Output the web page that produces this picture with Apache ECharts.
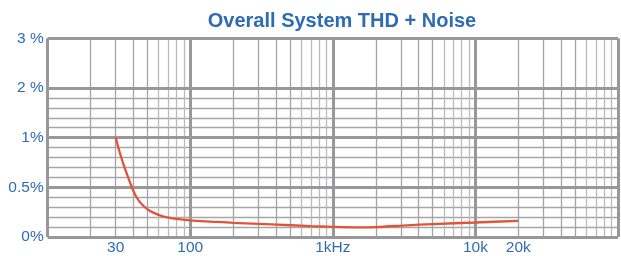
<!DOCTYPE html>
<html>
<head>
<meta charset="utf-8">
<script src="https://cdn.jsdelivr.net/npm/echarts@6/dist/echarts.min.js"></script>
<style>
  html, body { margin: 0; padding: 0; background: #fff; }
  #chart { width: 621px; height: 256px; }
</style>
</head>
<body>
<div id="chart"></div>
<script>
// frequency (Hz) and THD+N (%)
const freqs = [30, 32, 34, 36, 38, 40, 42, 45, 50, 55, 65, 80, 100, 140, 200, 370, 700, 1000, 1500, 2000, 3300, 5000, 10000, 20000]
const thdn = [1.0, 0.85, 0.73, 0.63, 0.54, 0.46, 0.4, 0.34, 0.28, 0.245, 0.205, 0.182, 0.168, 0.155, 0.142, 0.127, 0.11, 0.102, 0.097, 0.1, 0.117, 0.13, 0.146, 0.163]

const xLabelVals = [30, 100, 1000, 10000, 20000]
const xLabelText = ['30', '100', '1kHz', '10k', '20k']
const decades = [10, 100, 1000, 10000, 100000]
const minorMults = [2, 3, 4, 5, 6, 7, 8, 9]

// y scale is piecewise: 0..1 % linear, 1..3 % at half the scale
const yMajor = [0, 0.5, 1, 2, 3]
const yMajorText = ['0%', '0.5%', '1%', '2 %', '3 %']

const toY = v => (v <= 1 ? v : 1 + (v - 1) / 2)

const blue = '#2e6bb5'
const thick = '#98989a'

const minorX = []
decades.slice(0, 4).forEach(d => {
  minorMults.forEach(m => {
    minorX.push({ xAxis: d * m, lineStyle: { color: m <= 5 ? '#a4a4a4' : '#bababa', width: 1.3 } })
  })
})
const majorX = decades.map(d => ({ xAxis: d, lineStyle: { color: thick, width: 3 } }))
const majorY = yMajor.map(v => ({ yAxis: toY(v), lineStyle: { color: thick, width: 3 } }))

// thin horizontal lines: every 0.1 up to 1.5 (transformed), none between 2 % and 3 %
const splitColors = []
for (let i = 0; i <= 20; i++) splitColors.push(i > 15 && i < 20 ? 'rgba(0,0,0,0)' : '#a6a6a6')

const chart = echarts.init(document.getElementById('chart'))
chart.setOption({
  animation: false,
  title: {
    text: 'Overall System THD + Noise',
    left: 337,
    top: 6,
    textAlign: 'center',
    textStyle: { color: blue, fontSize: 20, fontWeight: 'bold', fontFamily: 'Liberation Sans' }
  },
  grid: { left: 47.7, right: 3, top: 38.3, bottom: 17.7, containLabel: false },
  xAxis: {
    type: 'log',
    logBase: 10,
    min: 10,
    max: 100000,
    axisLine: { show: false },
    axisTick: { show: false },
    splitLine: { show: false },
    axisLabel: {
      customValues: xLabelVals,
      formatter: v => xLabelText[xLabelVals.indexOf(Math.round(v))] || '',
      color: blue,
      fontSize: 15.5,
      fontFamily: 'Liberation Sans',
      margin: 3
    }
  },
  yAxis: {
    type: 'value',
    min: 0,
    max: 2,
    interval: 0.1,
    axisLine: { show: false },
    axisTick: { show: false },
    splitLine: { show: true, lineStyle: { color: splitColors, width: 1.3 } },
    axisLabel: {
      formatter: v => {
        const i = yMajor.map(toY).findIndex(t => Math.abs(t - v) < 1e-6)
        return i >= 0 ? yMajorText[i] : ''
      },
      color: blue,
      fontSize: 15.5,
      fontFamily: 'Liberation Sans',
      margin: 4
    }
  },
  series: [
    {
      type: 'line',
      data: [],
      z: 1,
      silent: true,
      markLine: {
        silent: true,
        symbol: 'none',
        animation: false,
        label: { show: false },
        emphasis: { disabled: true },
        lineStyle: { type: 'solid' },
        data: minorX.concat(majorX, majorY)
      }
    },
    {
      name: 'THD+N',
      type: 'line',
      z: 5,
      smooth: 0.3,
      symbol: 'none',
      data: freqs.map((f, i) => [f, toY(thdn[i])]),
      lineStyle: { color: '#e0553a', width: 2.3 }
    }
  ]
})
</script>
</body>
</html>
